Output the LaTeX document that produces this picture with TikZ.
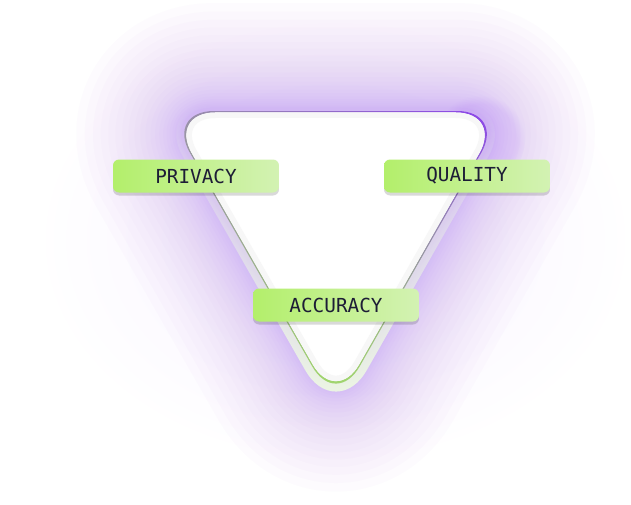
\documentclass[tikz,border=0pt]{standalone}
\usepackage{fontspec}
\setmonofont{DejaVu Sans Mono}
\usetikzlibrary{shadows,fadings,shadings}

\definecolor{glowc}{HTML}{A35CF5}
\definecolor{edgepurple}{HTML}{8A3BF2}
\definecolor{edgegray}{HTML}{9A94A6}
\definecolor{edgegreen}{HTML}{A2E064}
\definecolor{palegreen}{HTML}{EEFAE2}
\definecolor{boxl}{HTML}{B3EF6B}
\definecolor{boxr}{HTML}{D3F2B3}
\definecolor{ink}{HTML}{1D1D36}

\newcommand{\tri}{(166,111) -- (505,111) -- (336,408) -- cycle}

\tikzset{
  tag/.style={rounded corners=0.12cm, minimum width=3.32cm, minimum height=0.66cm,
    left color=boxl, right color=boxr, text=ink,
    font=\ttfamily\fontsize{11}{13}\selectfont,
    drop shadow={shadow xshift=0pt, shadow yshift=-0.06cm, opacity=.15, fill=black}},
  glow/.style={glowc, line join=round, rounded corners=0.96cm}
}

\begin{document}
\begin{tikzpicture}[x=0.02cm, y=-0.02cm]
\useasboundingbox[fill=white] (0,0) rectangle (631,504);

% purple haze
\shade[inner color=glowc!9, outer color=white] (335,240) ellipse (300 and 225);
\foreach \i in {24,23,...,1}
  \draw[glow, opacity=.02, line width={(\i*\i/576*210+6)*0.02cm}] \tri;
\fill[glowc, opacity=.12, path fading=circle with fuzzy edge 20 percent] (480,140) circle (45);

% light band
\draw[palegreen, line width=0.32cm, rounded corners=0.96cm, path fading=north] \tri;

% outline
\begin{scope}
  \clip[rounded corners=0.96cm] \tri;
  \shade[upper left=edgegray, upper right=edgepurple, lower left=edgegreen, lower right=edgegreen]
    (160,105) rectangle (510,410);
\end{scope}

% inside
\begin{scope}[shift={(335.5,209.4)}, scale=0.985, shift={(-335.5,-209.4)}]
  \clip[rounded corners=0.94cm] \tri;
  \fill[white] (160,105) rectangle (510,410);
  \draw[black!3, line width=0.22cm, rounded corners=0.94cm] \tri;
\end{scope}

\node[tag] (privacy) at (196,176) {PRIVACY};
\node[tag] (quality) at (467,176) {QUALITY};
\node[tag] (accuracy) at (336,305) {ACCURACY};
\end{tikzpicture}
\end{document}
